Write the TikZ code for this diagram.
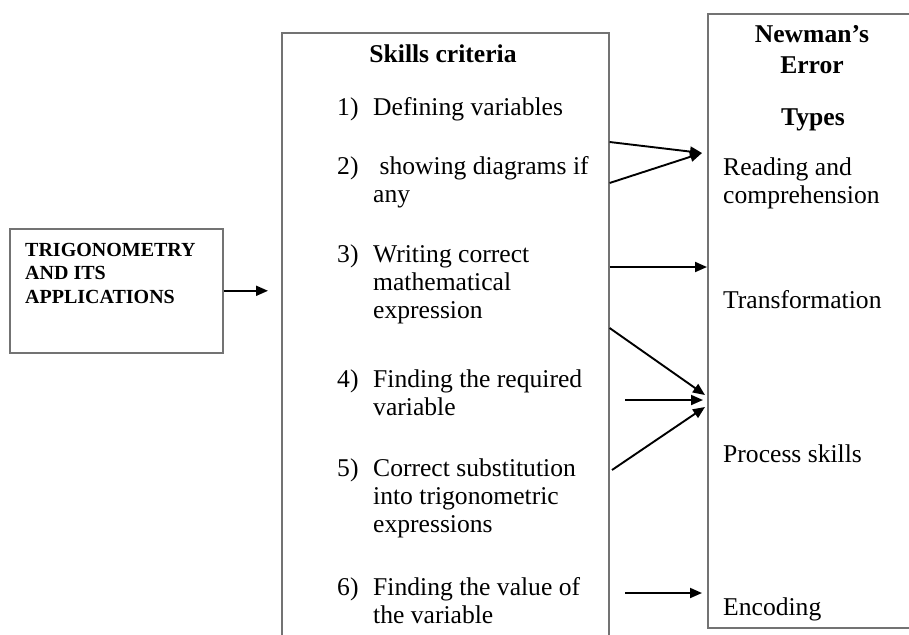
\documentclass[tikz,border=0pt]{standalone}
\usepackage{fontspec}
\setmainfont{Liberation Serif}
\usetikzlibrary{arrows.meta}
\begin{document}
\begin{tikzpicture}[x=1pt,y=-1pt,
  frame/.style={draw=black!55, line width=1.6pt, inner sep=0pt},
  body/.style={font=\fontsize{25.6}{28}\selectfont, inner sep=0pt, anchor=base west, align=left},
  head/.style={font=\fontsize{25.6}{30}\selectfont\bfseries, inner sep=0pt, anchor=base, align=center},
  topictext/.style={font=\fontsize{20}{23.5}\selectfont\bfseries, inner sep=0pt, anchor=base west, align=left},
  link/.style={line width=1.9pt, -{Triangle[length=12pt,width=10pt]}}]
\useasboundingbox (0,0) rectangle (909,634);
\clip (0,0) rectangle (909,634);

% three frames
\node[frame, minimum width=213pt, minimum height=124pt, anchor=north west] (topic) at (9,228) {};
\node[frame, minimum width=327pt, minimum height=640pt, anchor=north west] (skills) at (281,32) {};
\node[frame, minimum width=240pt, minimum height=614pt, anchor=north west] (errors) at (707,13) {};

% topic box (multi-line nodes sit on the baseline of their last line)
\node[topictext] (tt) at (25,303) {TRIGONOMETRY\\AND ITS\\APPLICATIONS};

% skills criteria
\node[head] (sh) at (443,63) {Skills criteria};
\node[body] (n1) at (337,115) {1)};
\node[body] (c1) at (373,115) {Defining variables};
\node[body] (n2) at (337,174) {2)};
\node[body] (c2) at (373,202) {\ showing diagrams if\\any};
\node[body] (n3) at (337,262) {3)};
\node[body] (c3) at (373,318) {Writing correct\\mathematical\\expression};
\node[body] (n4) at (337,387) {4)};
\node[body] (c4) at (373,415) {Finding the required\\variable};
\node[body] (n5) at (337,476) {5)};
\node[body] (c5) at (373,532) {Correct substitution\\into trigonometric\\expressions};
\node[body] (n6) at (337,595) {6)};
\node[body] (c6) at (373,623) {Finding the value of\\the variable};

% error types
\node[head] (eh1) at (812,43) {Newman’s};
\node[head] (eh2) at (812,73) {Error};
\node[head] (eh3) at (813,125) {Types};
\node[body] (e1) at (723,203) {Reading and\\comprehension};
\node[body] (e2) at (723,308) {Transformation};
\node[body] (e3) at (723,462) {Process skills};
\node[body] (e4) at (723,615) {Encoding};

% connector end points
\coordinate (a1) at (skills.east |- 0,142);
\coordinate (a2) at (skills.east |- 0,183);
\coordinate (b1) at (errors.west |- 0,153);
\coordinate (a3) at (skills.east |- 0,267);
\coordinate (b3) at (errors.west |- 0,267);
\coordinate (a4) at (skills.east |- 0,328);
\coordinate (b4) at (705,395);
\coordinate (a5) at (625,400);
\coordinate (b5) at (703,400);
\coordinate (a6) at (612,470);
\coordinate (b6) at (705,407);
\coordinate (a7) at (625,593);
\coordinate (b7) at (702,593);

\draw[link] (topic.east) -- (topic.east -| 268,0);
\draw[link] (a1) -- ([xshift=-5pt]b1);
\draw[link] (a2) -- ([xshift=-5pt]b1);
\draw[link] (a3) -- (b3);
\draw[link] (a4) -- (b4);
\draw[link] (a5) -- (b5);
\draw[link] (a6) -- (b6);
\draw[link] (a7) -- (b7);
\end{tikzpicture}
\end{document}
